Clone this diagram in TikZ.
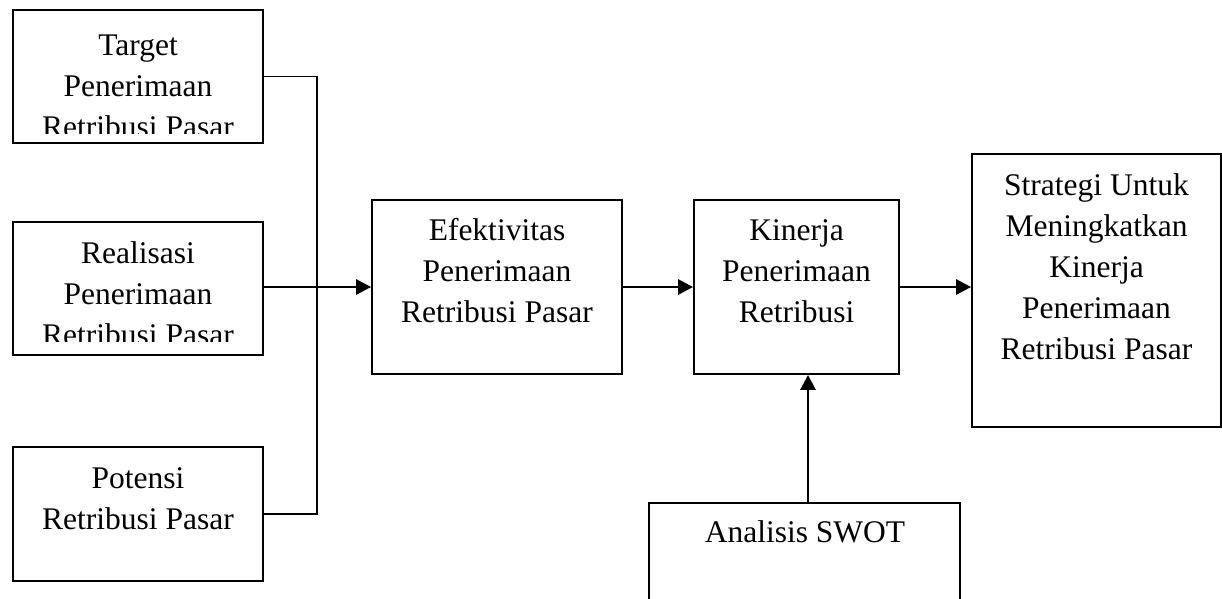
\documentclass[tikz,border=0pt]{standalone}
\usepackage{fontspec}
\setmainfont{Liberation Serif}
\usetikzlibrary{arrows.meta}
\newcommand\mlines[1]{\begin{tabular}[t]{@{}c@{}}#1\end{tabular}}
\tikzset{
  boxnode/.style={draw, line width=1.8pt, inner sep=0pt},
  label/.style={anchor=base, inner sep=0pt, font=\fontsize{31.5}{41}\selectfont},
  conn/.style={line width=1.8pt},
  thinconn/.style={line width=1.2pt},
  arr/.style={line width=2.8pt, -{Triangle[length=15pt,width=15pt]}},
}
\begin{document}
\begin{tikzpicture}[x=1pt,y=-1pt]
\useasboundingbox (0,0) rectangle (1222,598);
\clip (0,0) rectangle (1222,598);
% boxes
\node[boxnode, minimum width=250pt, minimum height=133pt] (target) at (138,76.5) {};
\node[boxnode, minimum width=250pt, minimum height=133pt] (real) at (138,288.5) {};
\node[boxnode, minimum width=250pt, minimum height=134pt] (pot) at (138,514) {};
\node[boxnode, minimum width=250pt, minimum height=174pt] (efek) at (497,287) {};
\node[boxnode, minimum width=205pt, minimum height=174pt] (kin) at (796.5,287) {};
\node[boxnode, minimum width=311pt, minimum height=130pt] (swot) at (804.5,568) {};
\node[boxnode, minimum width=249pt, minimum height=273pt] (strat) at (1096.5,290.5) {};
% texts
\begin{scope}
\clip (14,11) rectangle (262,133);
\node[label] (ttarget) at (138,55) {\mlines{Target\\Penerimaan\\Retribusi Pasar}};
\end{scope}
\begin{scope}
\clip (14,223) rectangle (262,341);
\node[label] (treal) at (138,263) {\mlines{Realisasi\\Penerimaan\\Retribusi Pasar}};
\end{scope}
\node[label] (tpot) at (138,488) {\mlines{Potensi\\Retribusi Pasar}};
\node[label] (tefek) at (497,240) {\mlines{Efektivitas\\Penerimaan\\Retribusi Pasar}};
\node[label] (tkin) at (796.5,240) {\mlines{Kinerja\\Penerimaan\\Retribusi}};
\node[label] (tswot) at (805,542) {Analisis SWOT};
\node[label] (tstrat) at (1096.5,195) {\mlines{Strategi Untuk\\Meningkatkan\\Kinerja\\Penerimaan\\Retribusi Pasar}};
% connectors
\coordinate (bus) at (317,0);
\coordinate (join) at (292,287);
\coordinate (swx) at (808,0);
\draw[conn] (target.east) -| (bus |- pot.east) -- (pot.east);
\draw[thinconn] (real.east |- join) -- (join);
\draw[arr] (join) -- (efek.west);
\draw[arr] (efek.east) -- (kin.west);
\draw[arr] (kin.east) -- (kin.east -| strat.west);
\draw[arr] (swot.north -| swx) -- (kin.south -| swx);
\end{tikzpicture}
\end{document}
